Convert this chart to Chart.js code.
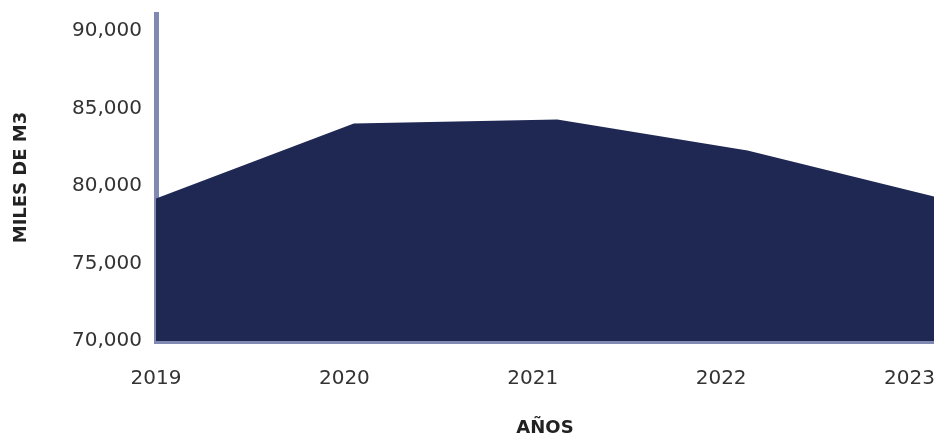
<!DOCTYPE html>
<html>
<head>
<meta charset="utf-8">
<script src="https://cdn.jsdelivr.net/npm/chart.js@4"></script>
<style>
	html, body { margin: 0; padding: 0; background: #fff; }
	#wrap { width: 934px; height: 437px; }
</style>
</head>
<body>
<div id="wrap"><canvas id="chart"></canvas></div>
<script>
// values
const years = [2019, 2020.05, 2021.13, 2022.14, 2023.13]; // x position of each vertex
const volumes = [79190, 84030, 84290, 82290, 79320]; // miles de m3
const xTicks = [2019, 2020, 2021, 2022, 2023];
const yTicks = [70000, 75000, 80000, 85000, 90000];

const fillColor = "#1F2853";
const axisColor = "#8089AF";
const textColor = "#333333";
const fontFamily = "'DejaVu Sans', sans-serif";

const ctx = document.getElementById("chart");

new Chart(ctx, {
	type: "line",
	data: {
		datasets: [
			{
				data: years.map((y, i) => ({ x: y, y: volumes[i] })),
				backgroundColor: fillColor,
				borderWidth: 0,
				pointRadius: 0,
				fill: "start",
				tension: 0,
			},
		],
	},
	options: {
		responsive: true,
		maintainAspectRatio: false,
		animation: false,
		layout: { padding: { top: 14, right: 0, bottom: 0, left: 0 } },
		plugins: {
			legend: { display: false },
			tooltip: { enabled: false },
		},
		scales: {
			x: {
				type: "linear",
				min: 2019,
				max: 2023.13,
				z: 1,
				afterBuildTicks: (s) => {
					s.ticks = xTicks.map((v) => ({ value: v }));
				},
				afterFit: (s) => {
					s.height = 96;
					s.paddingLeft = 0;
					s.paddingRight = 0;
				},
				grid: { display: false, drawTicks: false },
				border: { display: true, width: 5, color: axisColor },
				ticks: {
					padding: 26,
					color: textColor,
					font: { family: fontFamily, size: 20 },
					maxRotation: 0,
					callback: (v) => String(v),
				},
				title: {
					display: true,
					text: "AÑOS",
					color: "#222",
					font: { family: fontFamily, size: 18, weight: "bold" },
					padding: { top: 0, bottom: -2 },
				},
			},
			y: {
				min: 70000,
				max: 91100,
				z: 1,
				afterBuildTicks: (s) => {
					s.ticks = yTicks.map((v) => ({ value: v }));
				},
				afterFit: (s) => {
					s.width = 156;
					s.paddingTop = 0;
					s.paddingBottom = 0;
				},
				grid: { display: false, drawTicks: false },
				border: { display: true, width: 5, color: axisColor },
				ticks: {
					padding: 14,
					color: textColor,
					font: { family: fontFamily, size: 20 },
					callback: (v) => v.toLocaleString("en-US"),
				},
				title: {
					display: true,
					text: "MILES DE M3",
					color: "#222",
					font: { family: fontFamily, size: 18, weight: "bold" },
					padding: { top: 11, bottom: 0 },
				},
			},
		},
	},
});
</script>
</body>
</html>
